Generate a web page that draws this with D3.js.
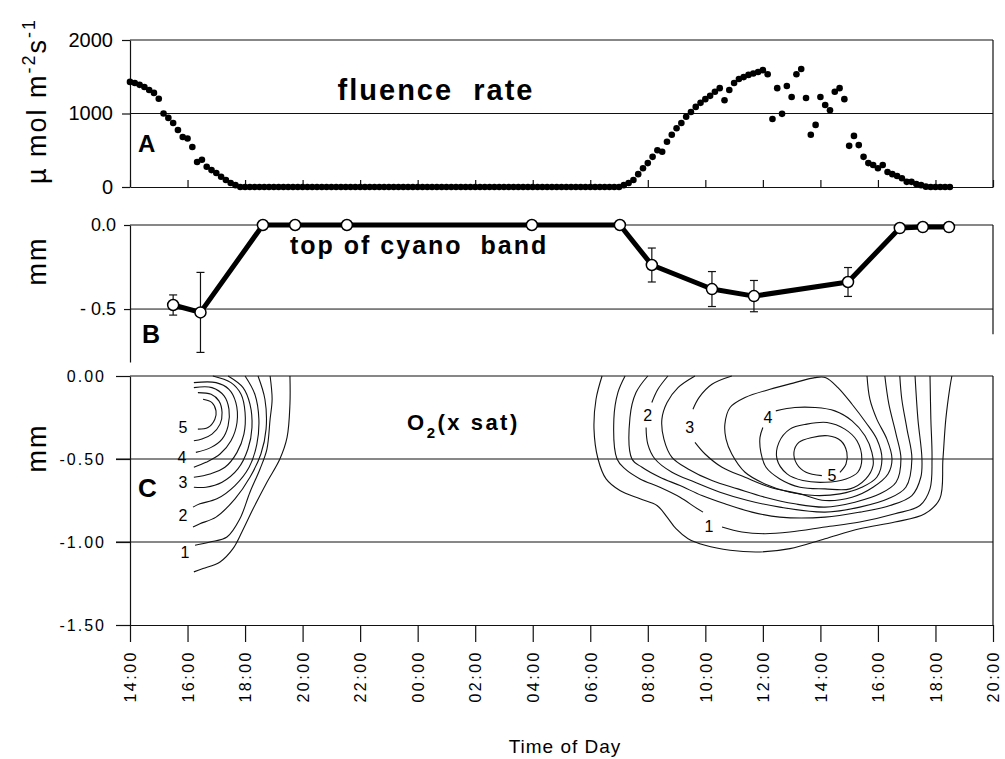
<!DOCTYPE html>
<html><head><meta charset="utf-8">
<script src="https://cdn.jsdelivr.net/npm/d3@7"></script>
<style>
body{margin:0;background:#fff}
svg{display:block}
text{font-family:"Liberation Sans",Arial,Helvetica,sans-serif;fill:#000}
</style>
</head><body>
<svg id="chart" width="1005" height="759"></svg>
<script>
// ---------- DATA ----------
// x axis: hours elapsed since 14:00 on day 1
const timeTickHours = [0,2,4,6,8,10,12,14,16,18,20,22,24,26,28,30];
const timeTickLabels = ["14:00","16:00","18:00","20:00","22:00","00:00","02:00","04:00","06:00","08:00","10:00","12:00","14:00","16:00","18:00","20:00"];

// Panel A: fluence rate, sampled every 10 minutes from 14:00
const fluenceStepMin = 10;
const fluenceValues = [
 1430,1415,1390,1360,1320,1280,1200,1000,940,870,775,680,660,545,340,370,275,230,190,140,95,55,25,0,
 0,0,0,0,0,0,0,0,0,0, 0,0,0,0,0,0,0,0,0,0, 0,0,0,0,0,0,0,0,0,0, 0,0,0,0,0,0,0,0,0,0,
 0,0,0,0,0,0,0,0,0,0, 0,0,0,0,0,0,0,0,0,0, 0,0,0,0,0,0,0,0,0,0, 0,0,0,0,0,0,0,0,0,
 25,55,95,175,255,325,410,500,480,615,710,800,870,955,1020,1090,1145,1195,1240,1295,
 1345,1180,1320,1415,1470,1495,1525,1545,1565,1590,1535,925,1345,995,1375,1225,1535,1605,1210,710,
 845,1225,1115,1045,1295,1345,1195,560,695,570,410,325,300,255,300,205,175,150,120,70,
 70,40,25,5,0,0,0,0,0
];
const fluenceTicks = [0,1000,2000];

// Panel B: top of cyanobacterial band (mm), with error bars
const bandTime  = [1.50, 2.45, 4.62, 5.74, 7.54, 13.97, 17.03, 18.14, 20.23, 21.69, 24.96, 26.76, 27.56, 28.47];
const bandDepth = [-0.476,-0.52, 0, 0, 0, 0, 0, -0.238,-0.381,-0.423,-0.339,-0.018,-0.012,-0.012];
const bandErr   = [0.06, 0.238, 0, 0, 0, 0, 0, 0.101, 0.104, 0.093, 0.086, 0, 0, 0];
const bandTicks = [0, -0.5];
const bandTickLabels = ["0.0", "- 0.5"];

// Panel C: O2 (x saturation) isolines, points as [hours since 14:00, depth mm]
const o2LeftContours = [
 {level:5,   closed:false, pts:[[2.54,-0.14],[2.85,-0.16],[2.99,-0.21],[2.95,-0.26],[2.71,-0.31],[2.36,-0.32]]},
 {level:4.5, closed:false, pts:[[2.36,-0.10],[2.82,-0.11],[3.09,-0.15],[3.20,-0.22],[3.13,-0.29],[2.85,-0.35],[2.50,-0.38],[2.22,-0.39]]},
 {level:4,   closed:false, pts:[[2.22,-0.07],[2.85,-0.07],[3.27,-0.12],[3.44,-0.20],[3.41,-0.30],[3.20,-0.38],[2.82,-0.43],[2.29,-0.46]]},
 {level:3.5, closed:false, pts:[[2.22,-0.04],[2.99,-0.04],[3.44,-0.08],[3.68,-0.16],[3.72,-0.28],[3.51,-0.39],[3.13,-0.47],[2.64,-0.52],[2.22,-0.55]]},
 {level:3,   closed:false, pts:[[2.88,0],[3.51,-0.04],[3.86,-0.11],[4.00,-0.22],[3.96,-0.35],[3.72,-0.46],[3.30,-0.55],[2.78,-0.59],[2.22,-0.61]]},
 {level:2.5, closed:false, pts:[[3.41,0],[3.93,-0.07],[4.17,-0.17],[4.24,-0.31],[4.10,-0.44],[3.75,-0.56],[3.20,-0.64],[2.64,-0.67],[2.22,-0.67]]},
 {level:2,   closed:false, pts:[[4.00,0],[4.34,-0.11],[4.48,-0.26],[4.41,-0.41],[4.14,-0.55],[3.65,-0.66],[3.02,-0.74],[2.43,-0.77],[2.19,-0.79]]},
 {level:1.5, closed:false, pts:[[4.45,0],[4.69,-0.14],[4.73,-0.32],[4.55,-0.47],[4.17,-0.61],[3.65,-0.74],[2.99,-0.85],[2.43,-0.89],[2.19,-0.91]]},
 {level:1,   closed:false, pts:[[4.87,0],[4.94,-0.14],[4.87,-0.26],[4.76,-0.44],[4.52,-0.56],[4.17,-0.70],[3.82,-0.86],[3.37,-0.97],[2.78,-1.00],[2.26,-1.02]]},
 {level:0.5, closed:false, pts:[[5.56,0],[5.56,-0.17],[5.46,-0.37],[5.21,-0.50],[4.76,-0.64],[4.28,-0.80],[3.89,-0.94],[3.58,-1.04],[3.13,-1.12],[2.54,-1.16],[2.22,-1.18]]}
];
const o2RightContours = [
 {level:0.5, closed:false, pts:[[16.41,0],[16.20,-0.14],[16.13,-0.32],[16.27,-0.50],[16.55,-0.62],[17.03,-0.69],[17.73,-0.74],[18.32,-0.78],[18.67,-0.85],[18.98,-0.92],[19.40,-0.98],[19.99,-1.02],[20.86,-1.05],[21.90,-1.06],[22.94,-1.04],[24.16,-0.98],[25.37,-0.92],[26.59,-0.88],[27.63,-0.83],[28.15,-0.74],[28.26,-0.50],[28.36,-0.26],[28.50,-0.07],[28.57,0]]},
 {level:1, closed:false, pts:[[17.21,0],[16.96,-0.10],[16.82,-0.26],[16.93,-0.50],[17.21,-0.56],[17.73,-0.62],[18.42,-0.67],[19.12,-0.73],[19.64,-0.79],[19.92,-0.82]]},
 {level:1, closed:false, pts:[[20.58,-0.91],[21.27,-0.94],[22.07,-0.95],[22.94,-0.94],[24.16,-0.91],[25.37,-0.88],[26.59,-0.83],[27.46,-0.78],[27.81,-0.68],[27.88,-0.50],[27.84,-0.26],[27.81,0]]},
 {level:1.5, closed:false, pts:[[18.00,0],[17.59,-0.10],[17.38,-0.25],[17.45,-0.50],[17.80,-0.55],[18.42,-0.61],[19.12,-0.66],[19.88,-0.72],[20.68,-0.77],[21.62,-0.82],[22.59,-0.85],[24.16,-0.85],[25.37,-0.82],[26.42,-0.78],[27.18,-0.72],[27.49,-0.61],[27.53,-0.50],[27.39,-0.26],[27.29,0]]},
 {level:2, closed:false, pts:[[18.70,0],[18.35,-0.08],[18.14,-0.16]]},
 {level:2, closed:false, pts:[[17.94,-0.31],[18.00,-0.41],[18.25,-0.50],[18.84,-0.58],[19.64,-0.64],[20.51,-0.70],[21.48,-0.75],[22.59,-0.79],[24.16,-0.82],[25.37,-0.79],[26.35,-0.74],[26.97,-0.67],[27.18,-0.50],[27.01,-0.32],[26.83,-0.14],[26.76,0]]},
 {level:2.5, closed:false, pts:[[19.64,0],[19.05,-0.07],[18.67,-0.16],[18.49,-0.26],[18.56,-0.38],[18.84,-0.49],[19.40,-0.56],[20.23,-0.63],[21.13,-0.68],[22.07,-0.73],[23.11,-0.77],[24.16,-0.79],[25.20,-0.76],[26.07,-0.71],[26.63,-0.64],[26.80,-0.50],[26.63,-0.35],[26.38,-0.17],[26.24,0]]},
 {level:3, closed:false, pts:[[20.92,0],[20.23,-0.05],[19.78,-0.13],[19.57,-0.20]]},
 {level:3, closed:false, pts:[[19.64,-0.40],[19.99,-0.47],[20.58,-0.55],[21.38,-0.61],[22.25,-0.67],[23.29,-0.71],[24.16,-0.75],[25.10,-0.73],[25.83,-0.67],[26.35,-0.59],[26.49,-0.50],[26.31,-0.38],[25.96,-0.26],[25.72,-0.14],[25.62,0]]},
 {level:3.5, closed:true, pts:[[20.68,-0.29],[20.86,-0.19],[21.38,-0.13],[22.25,-0.08],[23.11,-0.04],[23.81,-0.01],[24.19,-0.01],[24.61,-0.07],[25.10,-0.17],[25.58,-0.28],[25.96,-0.38],[26.14,-0.50],[25.96,-0.61],[25.44,-0.67],[24.68,-0.71],[23.81,-0.72],[22.94,-0.70],[22.07,-0.65],[21.38,-0.58],[20.92,-0.47],[20.72,-0.38]]},
 {level:4, closed:false, pts:[[22.45,-0.21],[23.11,-0.19],[23.81,-0.19],[24.50,-0.21],[25.10,-0.27],[25.55,-0.36],[25.79,-0.46],[25.83,-0.54],[25.58,-0.62],[25.03,-0.68],[24.16,-0.68],[23.29,-0.67],[22.59,-0.62],[22.11,-0.55],[21.93,-0.46],[21.90,-0.37],[22.00,-0.31]]},
 {level:4.5, closed:true, pts:[[22.49,-0.50],[22.56,-0.40],[22.94,-0.32],[23.53,-0.29],[24.23,-0.28],[24.85,-0.32],[25.27,-0.39],[25.44,-0.50],[25.30,-0.58],[24.89,-0.62],[24.16,-0.64],[23.39,-0.63],[22.84,-0.59]]},
 {level:5, closed:false, pts:[[24.05,-0.60],[23.50,-0.58],[23.18,-0.53],[23.08,-0.46],[23.25,-0.40],[23.71,-0.37],[24.26,-0.36],[24.71,-0.39],[24.92,-0.46],[24.89,-0.53],[24.68,-0.58]]}
];
const o2Labels = [
 {text:"5", t:1.84, d:-0.31}, {text:"4", t:1.81, d:-0.49}, {text:"3", t:1.84, d:-0.64},
 {text:"2", t:1.84, d:-0.84}, {text:"1", t:1.91, d:-1.06},
 {text:"2", t:18.00, d:-0.234}, {text:"3", t:19.46, d:-0.31}, {text:"4", t:22.18, d:-0.25},
 {text:"1", t:20.13, d:-0.905}, {text:"5", t:24.40, d:-0.60}
];
const o2Ticks = [0, -0.5, -1, -1.5];
const o2TickLabels = ["0.00", "-0.50", "-1.00", "-1.50"];

// ---------- LAYOUT ----------
const svg = d3.select("#chart");
const x  = d3.scaleLinear().domain([0, 30]).range([130, 993]);
const yA = d3.scaleLinear().domain([0, 2000]).range([187, 40]);
const yB = d3.scaleLinear().domain([-0.815, 0]).range([362, 225]);
const yC = d3.scaleLinear().domain([-1.5, 0]).range([625, 376]);
const ink = "#111";

function hline(y, x0, x1, w) {
  svg.append("line").attr("x1", x0).attr("x2", x1).attr("y1", y).attr("y2", y)
    .attr("stroke", ink).attr("stroke-width", w || 1);
}
function vline(xp, y0, y1, w) {
  svg.append("line").attr("x1", xp).attr("x2", xp).attr("y1", y0).attr("y2", y1)
    .attr("stroke", ink).attr("stroke-width", w || 1);
}
function styleAxis(g) {
  g.selectAll("path,line").attr("stroke", ink).attr("stroke-width", 1.2);
  g.selectAll("text").attr("fill", "#000").attr("font-family", '"Liberation Sans",Arial,sans-serif');
}

// ---------- PANEL A ----------
hline(yA(2000), x(0), x(30), 1.2);
hline(yA(1000), x(0), x(30), 1);
vline(x(30), yA(2000), yA(0), 1.2);
svg.append("g").attr("transform", `translate(${x(0)},0)`)
  .call(d3.axisLeft(yA).tickValues(fluenceTicks).tickSize(8).tickSizeOuter(0).tickPadding(9).tickFormat(d3.format("d")))
  .call(styleAxis)
  .call(g => g.selectAll("text").attr("font-size", 20));
svg.append("g").attr("transform", `translate(0,${yA(0)})`)
  .call(d3.axisBottom(x).tickValues(timeTickHours).tickSize(-7).tickSizeOuter(0).tickFormat(""))
  .call(styleAxis);

svg.append("g").selectAll("circle")
  .data(fluenceValues)
  .join("circle")
  .attr("cx", (d, i) => x(i * fluenceStepMin / 60))
  .attr("cy", d => yA(d))
  .attr("r", 3.3)
  .attr("fill", "#000");

svg.append("text").attr("x", 436).attr("y", 100).attr("text-anchor", "middle")
  .attr("font-size", 29).attr("font-weight", "bold").attr("letter-spacing", 2)
  .style("white-space", "pre").text("fluence  rate");
svg.append("text").attr("x", 138).attr("y", 152).attr("font-size", 24).attr("font-weight", "bold").text("A");

// y label A
const ylA = svg.append("text").attr("transform", "translate(46,101) rotate(-90)")
  .attr("text-anchor", "middle").attr("font-size", 27).attr("letter-spacing", 2);
ylA.append("tspan").text("\u00b5 mol m");
ylA.append("tspan").attr("dy", -11).attr("font-size", 18).text("-2");
ylA.append("tspan").attr("dy", 11).text("s");
ylA.append("tspan").attr("dy", -11).attr("font-size", 18).text("-1");

// ---------- PANEL B ----------
hline(yB(0), x(0), x(30), 1.2);
hline(yB(-0.5), x(0), x(30), 1);
vline(x(30), yB(0), yB(-0.65), 1.2);
svg.append("g").attr("transform", `translate(${x(0)},0)`)
  .call(d3.axisLeft(yB).tickValues(bandTicks).tickSize(6).tickSizeOuter(0).tickPadding(8)
    .tickFormat((d, i) => bandTickLabels[i]))
  .call(styleAxis)
  .call(g => g.selectAll("text").attr("font-size", 18).style("white-space", "pre"));

const bandPts = bandTime.map((t, i) => ({t, d: bandDepth[i], e: bandErr[i]}));
const errG = svg.append("g").attr("stroke", ink).attr("stroke-width", 1.2);
bandPts.filter(p => p.e > 0).forEach(p => {
  const cx = x(p.t), y0 = yB(p.d + p.e), y1 = yB(p.d - p.e);
  errG.append("line").attr("x1", cx).attr("x2", cx).attr("y1", y0).attr("y2", y1);
  errG.append("line").attr("x1", cx - 4).attr("x2", cx + 4).attr("y1", y0).attr("y2", y0);
  errG.append("line").attr("x1", cx - 4).attr("x2", cx + 4).attr("y1", y1).attr("y2", y1);
});
svg.append("path").datum(bandPts)
  .attr("d", d3.line().x(p => x(p.t)).y(p => yB(p.d)))
  .attr("fill", "none").attr("stroke", "#000").attr("stroke-width", 5).attr("stroke-linejoin", "round");
svg.append("g").selectAll("circle").data(bandPts).join("circle")
  .attr("cx", p => x(p.t)).attr("cy", p => yB(p.d)).attr("r", 5.5)
  .attr("fill", "#fff").attr("stroke", "#000").attr("stroke-width", 1.5);

svg.append("text").attr("x", 290).attr("y", 254).attr("font-size", 25).attr("font-weight", "bold")
  .attr("letter-spacing", 2).style("white-space", "pre").text("top of cyano  band");
svg.append("text").attr("x", 142).attr("y", 343).attr("font-size", 25).attr("font-weight", "bold").text("B");
svg.append("text").attr("transform", "translate(46,261) rotate(-90)").attr("text-anchor", "middle")
  .attr("font-size", 27).attr("letter-spacing", 2).text("mm");

// ---------- PANEL C ----------
hline(yC(0), x(0), x(30), 1.2);
hline(yC(-0.5), x(0) - 14, x(30), 1);
hline(yC(-1), x(0) - 14, x(30), 1);
vline(x(30), yC(0), yC(-1.5), 1.2);
svg.append("g").attr("transform", `translate(${x(0)},0)`)
  .call(d3.axisLeft(yC).tickValues(o2Ticks).tickSize(14).tickSizeOuter(0).tickPadding(10)
    .tickFormat((d, i) => o2TickLabels[i]))
  .call(styleAxis)
  .call(g => g.selectAll("text").attr("font-size", 16).attr("letter-spacing", 2));
svg.append("g").attr("transform", `translate(0,${yC(-1.5)})`)
  .call(d3.axisBottom(x).tickValues(timeTickHours).tickSize(17).tickSizeOuter(0)
    .tickFormat((d, i) => timeTickLabels[i]))
  .call(styleAxis)
  .call(g => g.selectAll("text")
    .attr("transform", "rotate(-90)").attr("x", -25).attr("y", 0).attr("dy", "0.36em")
    .attr("text-anchor", "end").attr("font-size", 16).attr("letter-spacing", 2.5));

const contourG = svg.append("g").attr("fill", "none").attr("stroke", ink).attr("stroke-width", 1.1);
const openLine = d3.line().x(p => x(p[0])).y(p => yC(p[1])).curve(d3.curveCatmullRom.alpha(0.5));
const closedLine = d3.line().x(p => x(p[0])).y(p => yC(p[1])).curve(d3.curveCatmullRomClosed.alpha(0.5));
o2LeftContours.concat(o2RightContours).forEach(c => {
  contourG.append("path").attr("d", (c.closed ? closedLine : openLine)(c.pts));
});
svg.append("g").selectAll("text").data(o2Labels).join("text")
  .attr("x", l => x(l.t)).attr("y", l => yC(l.d)).attr("dy", "0.36em")
  .attr("text-anchor", "middle").attr("font-size", 16).text(l => l.text);

const o2t = svg.append("text").attr("x", 407).attr("y", 430).attr("font-size", 22)
  .attr("font-weight", "bold").attr("letter-spacing", 2.5);
o2t.append("tspan").text("O");
o2t.append("tspan").attr("dy", 8).attr("font-size", 15).text("2");
o2t.append("tspan").attr("dy", -8).text("(x sat)");

svg.append("text").attr("x", 138).attr("y", 497).attr("font-size", 26).attr("font-weight", "bold").text("C");
svg.append("text").attr("transform", "translate(46,448) rotate(-90)").attr("text-anchor", "middle")
  .attr("font-size", 27).attr("letter-spacing", 2).text("mm");

svg.append("text").attr("x", 565).attr("y", 753).attr("text-anchor", "middle")
  .attr("font-size", 19).attr("font-family", '"Liberation Sans Narrow","Liberation Sans",Arial,sans-serif')
  .attr("letter-spacing", 1).text("Time of Day");
</script>
</body></html>
